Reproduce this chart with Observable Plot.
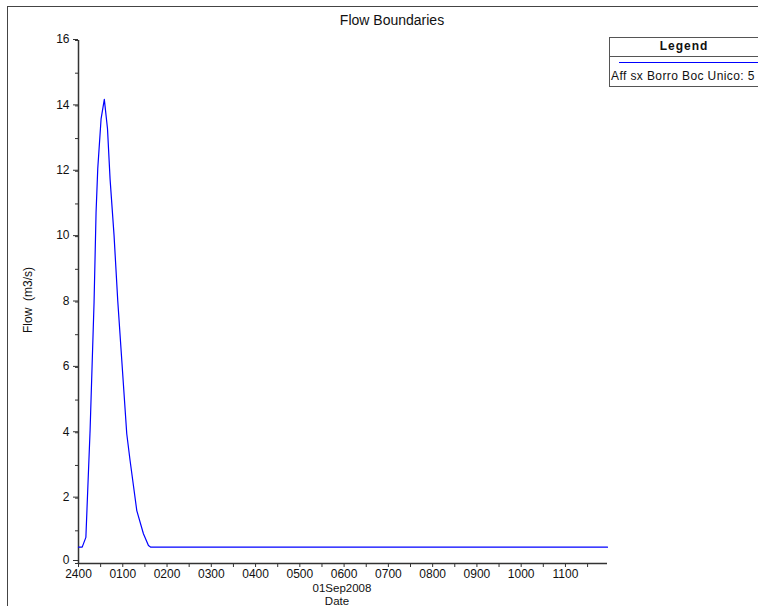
<!DOCTYPE html>
<html>
<head>
<meta charset="utf-8">
<script src="https://cdn.jsdelivr.net/npm/d3@7"></script>
<script src="https://cdn.jsdelivr.net/npm/@observablehq/plot@0.6"></script>
<style>
  body { margin: 0; background: #fff; font-family: "Liberation Sans", Arial, sans-serif; }
  #wrap { position: relative; width: 758px; height: 606px; overflow: hidden; background: #fff; }
  .abs { position: absolute; white-space: pre; color: #111; }
</style>
</head>
<body>
<div id="wrap"></div>
<script>
// ---- data ----
const minutes = [0, 5, 10, 15.7, 21.1, 23.8, 26.1, 30.6, 35, 39.3, 42.8, 48.2, 53.2, 65.4, 69.9, 79, 88, 94.8, 98, 717];
const flow    = [0.5, 0.5, 0.8, 4.07, 8.0, 10.74, 12.08, 13.6, 14.2, 13.3, 11.76, 10.03, 8.04, 3.97, 3.15, 1.62, 0.91, 0.55, 0.5, 0.5];
const hourLabels = ["2400","0100","0200","0300","0400","0500","0600","0700","0800","0900","1000","1100"];
const yMajor = [2, 4, 6, 8, 10, 12, 14, 16];
const yZero = [0];
const yMinor = d3.range(0, 17, 1);
const seriesName = "Aff sx Borro Boc Unico: 5";
const title = "Flow Boundaries";
const dateLabel = "01Sep2008";
const xTitle = "Date";
const yTitle = "Flow  (m3/s)";

const data = minutes.map((m, i) => ({hours: m / 60, flow: flow[i]}));
const halfHours = d3.range(0, 12, 0.5);
const xEnd = 717 / 60;

const font = "'Liberation Sans', Arial, sans-serif";
const chart = Plot.plot({
  width: 758,
  height: 606,
  marginLeft: 78,
  marginRight: 151,
  marginTop: 40,
  marginBottom: 43,
  style: {background: "transparent", fontFamily: font, fontSize: "12px", color: "#111"},
  x: {type: "linear", domain: [0, xEnd]},
  y: {type: "linear", domain: [0, 16]},
  marks: [
    Plot.axisX(halfHours, {
      tickSize: 4, tickPadding: 2, stroke: "#333",
      tickFormat: d => Number.isInteger(d) ? hourLabels[d] : "",
      label: null
    }),
    Plot.axisY(yMinor, {tickSize: 3, tickFormat: () => "", stroke: "#333", label: null}),
    Plot.axisY(yMajor, {tickSize: 5, tickPadding: 4, stroke: "#333", label: null, fontSize: 12, dy: -1}),
    Plot.axisY(yZero, {tickSize: 5, tickPadding: 4, stroke: "#333", label: null, fontSize: 12, dy: -3}),
    Plot.ruleX([0], {stroke: "#333", strokeWidth: 1.5}),
    Plot.ruleY([0], {stroke: "#333", strokeWidth: 1.5}),
    Plot.line(data, {x: "hours", y: "flow", stroke: "#0000ff", strokeWidth: 1.2})
  ]
});

const wrap = document.getElementById("wrap");
chart.style.position = "absolute";
chart.style.left = "0px";
chart.style.top = "0px";
chart.style.maxWidth = "none";
wrap.appendChild(chart);

function addText(txt, css) {
  const d = document.createElement("div");
  d.className = "abs";
  d.textContent = txt;
  Object.assign(d.style, css);
  wrap.appendChild(d);
  return d;
}

// outer frame (left and top edges visible)
const frame = document.createElement("div");
Object.assign(frame.style, {position: "absolute", left: "7px", top: "6px", width: "800px", height: "700px",
  borderLeft: "1px solid #444", borderTop: "1px solid #444", pointerEvents: "none"});
wrap.appendChild(frame);

addText(title, {left: "392px", top: "12px", transform: "translateX(-50%)", fontSize: "14px"});
addText(yTitle, {left: "28px", top: "300px", transform: "translate(-50%,-50%) rotate(-90deg)", fontSize: "12px"});
addText(dateLabel, {left: "342px", top: "582.5px", transform: "translateX(-50%)", fontSize: "11.5px", lineHeight: "10px"});
addText(xTitle, {left: "337px", top: "595.5px", transform: "translateX(-50%)", fontSize: "11.5px", lineHeight: "10px"});

// legend box
const leg = document.createElement("div");
Object.assign(leg.style, {position: "absolute", left: "609px", top: "37px", width: "170px", height: "48px",
  border: "1px solid #555", background: "#fff"});
wrap.appendChild(leg);
const legTitle = document.createElement("div");
legTitle.textContent = "Legend";
Object.assign(legTitle.style, {position: "absolute", left: "0px", top: "1px", width: "148px", textAlign: "center",
  fontWeight: "bold", fontSize: "12px", letterSpacing: "1px", color: "#111"});
leg.appendChild(legTitle);
const sep = document.createElement("div");
Object.assign(sep.style, {position: "absolute", left: "0px", top: "18px", width: "170px", height: "0px", borderTop: "1px solid #555"});
leg.appendChild(sep);
const legLine = document.createElement("div");
Object.assign(legLine.style, {position: "absolute", left: "9px", top: "24px", width: "170px", height: "0px", borderTop: "1.3px solid #0000ff"});
leg.appendChild(legLine);
const legText = document.createElement("div");
legText.textContent = seriesName;
Object.assign(legText.style, {position: "absolute", left: "1px", top: "31px", fontSize: "12px", whiteSpace: "nowrap", color: "#111", letterSpacing: "0.4px"});
leg.appendChild(legText);
</script>
</body>
</html>
